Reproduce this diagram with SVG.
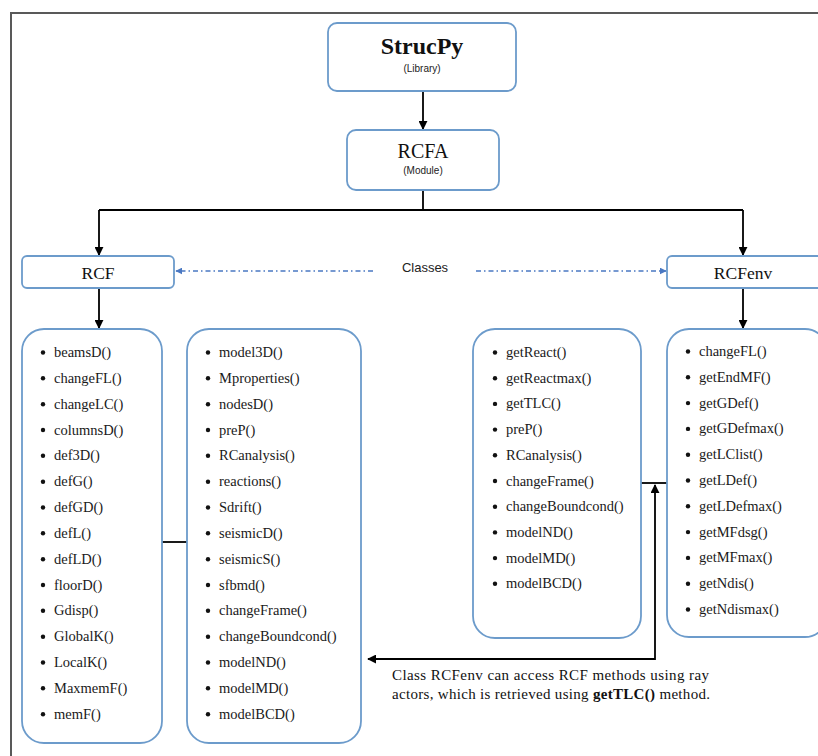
<svg xmlns="http://www.w3.org/2000/svg" width="818" height="756" viewBox="0 0 818 756">
<defs>
<style>
.box{fill:#fff;stroke:#6C9BCB;stroke-width:1.8}
.ln{fill:none;stroke:#000;stroke-width:1.8}
.blue{fill:none;stroke:#4A78C2;stroke-width:1.5;stroke-dasharray:5 3 1.5 3}
.ser{font-family:"Liberation Serif","Times New Roman",serif;fill:#111}
.sans{font-family:"Liberation Sans",Arial,sans-serif;fill:#222}
.item{font-family:"Liberation Serif","Times New Roman",serif;font-size:14.5px;fill:#1a1a1a}
.bul{fill:#111}
</style>
<marker id="ah" viewBox="0 0 10 10" refX="9" refY="5" markerWidth="9" markerHeight="9" markerUnits="userSpaceOnUse" orient="auto-start-reverse">
<path d="M0,0 L10,5 L0,10 z" fill="#000"/>
</marker>
<marker id="bh" viewBox="0 0 10 10" refX="9" refY="5" markerWidth="7" markerHeight="7" markerUnits="userSpaceOnUse" orient="auto-start-reverse">
<path d="M0,0 L10,5 L0,10 z" fill="#4A78C2"/>
</marker>
</defs>
<rect width="818" height="756" fill="#fff"/>
<path d="M11,756 V13 H818" fill="none" stroke="#595959" stroke-width="2"/>

<g id="connectors">
<path class="ln" d="M423,92 V129" marker-end="url(#ah)"/>
<path class="ln" d="M423,190 V210 M99,210 H743"/>
<path class="ln" d="M99,210 V255" marker-end="url(#ah)"/>
<path class="ln" d="M743,210 V255" marker-end="url(#ah)"/>
<path class="ln" d="M99,288 V328" marker-end="url(#ah)"/>
<path class="ln" d="M743,288 V328" marker-end="url(#ah)"/>
<path class="blue" d="M373,271 H176" marker-end="url(#bh)"/>
<path class="blue" d="M476,271 H666" marker-end="url(#bh)"/>
<path class="ln" d="M162,542 H187"/>
<path class="ln" d="M641,483 H667"/>
<path class="ln" d="M655,485 V659 H368" marker-start="url(#ah)" marker-end="url(#ah)"/>
</g>

<g id="strucpy">
<rect class="box" x="328" y="23" width="188" height="68" rx="9"/>
<text class="ser" x="422" y="54" font-size="24" font-weight="bold" text-anchor="middle">StrucPy</text>
<text class="sans" x="422" y="72" font-size="10" text-anchor="middle">(Library)</text>
</g>

<g id="rcfa">
<rect class="box" x="347" y="130" width="152" height="60" rx="9"/>
<text class="ser" x="423" y="158" font-size="20" text-anchor="middle">RCFA</text>
<text class="sans" x="423" y="174" font-size="10" text-anchor="middle">(Module)</text>
</g>

<g id="rcf">
<rect class="box" x="22" y="256" width="152" height="32" rx="5"/>
<text class="ser" x="98" y="279" font-size="17.5" text-anchor="middle">RCF</text>
</g>

<g id="classes">
<text class="sans" x="425" y="272" font-size="13" text-anchor="middle">Classes</text>
</g>

<g id="rcfenv">
<rect class="box" x="667" y="256" width="160" height="32" rx="5"/>
<text class="ser" x="743" y="279" font-size="17.5" text-anchor="middle">RCFenv</text>
</g>

<g id="rcf-list1">
<rect class="box" x="22" y="329" width="140" height="414" rx="22"/>
<g class="bul">
<circle cx="43" cy="352.5" r="2.2"/><circle cx="43" cy="378.3" r="2.2"/><circle cx="43" cy="404.2" r="2.2"/><circle cx="43" cy="430" r="2.2"/><circle cx="43" cy="455.8" r="2.2"/><circle cx="43" cy="481.7" r="2.2"/><circle cx="43" cy="507.5" r="2.2"/><circle cx="43" cy="533.3" r="2.2"/><circle cx="43" cy="559.2" r="2.2"/><circle cx="43" cy="585" r="2.2"/><circle cx="43" cy="610.8" r="2.2"/><circle cx="43" cy="636.7" r="2.2"/><circle cx="43" cy="662.5" r="2.2"/><circle cx="43" cy="688.3" r="2.2"/><circle cx="43" cy="714.2" r="2.2"/>
</g>
<text class="item">
<tspan x="54" y="357">beamsD()</tspan><tspan x="54" y="382.8">changeFL()</tspan><tspan x="54" y="408.7">changeLC()</tspan><tspan x="54" y="434.5">columnsD()</tspan><tspan x="54" y="460.3">def3D()</tspan><tspan x="54" y="486.2">defG()</tspan><tspan x="54" y="512">defGD()</tspan><tspan x="54" y="537.8">defL()</tspan><tspan x="54" y="563.7">defLD()</tspan><tspan x="54" y="589.5">floorD()</tspan><tspan x="54" y="615.3">Gdisp()</tspan><tspan x="54" y="641.2">GlobalK()</tspan><tspan x="54" y="667">LocalK()</tspan><tspan x="54" y="692.8">MaxmemF()</tspan><tspan x="54" y="718.7">memF()</tspan>
</text>
</g>

<g id="rcf-list2">
<rect class="box" x="187" y="329" width="174" height="414" rx="22"/>
<g class="bul">
<circle cx="208" cy="352.5" r="2.2"/><circle cx="208" cy="378.3" r="2.2"/><circle cx="208" cy="404.2" r="2.2"/><circle cx="208" cy="430" r="2.2"/><circle cx="208" cy="455.8" r="2.2"/><circle cx="208" cy="481.7" r="2.2"/><circle cx="208" cy="507.5" r="2.2"/><circle cx="208" cy="533.3" r="2.2"/><circle cx="208" cy="559.2" r="2.2"/><circle cx="208" cy="585" r="2.2"/><circle cx="208" cy="610.8" r="2.2"/><circle cx="208" cy="636.7" r="2.2"/><circle cx="208" cy="662.5" r="2.2"/><circle cx="208" cy="688.3" r="2.2"/><circle cx="208" cy="714.2" r="2.2"/>
</g>
<text class="item">
<tspan x="219" y="357">model3D()</tspan><tspan x="219" y="382.8">Mproperties()</tspan><tspan x="219" y="408.7">nodesD()</tspan><tspan x="219" y="434.5">preP()</tspan><tspan x="219" y="460.3">RCanalysis()</tspan><tspan x="219" y="486.2">reactions()</tspan><tspan x="219" y="512">Sdrift()</tspan><tspan x="219" y="537.8">seismicD()</tspan><tspan x="219" y="563.7">seismicS()</tspan><tspan x="219" y="589.5">sfbmd()</tspan><tspan x="219" y="615.3">changeFrame()</tspan><tspan x="219" y="641.2">changeBoundcond()</tspan><tspan x="219" y="667">modelND()</tspan><tspan x="219" y="692.8">modelMD()</tspan><tspan x="219" y="718.7">modelBCD()</tspan>
</text>
</g>

<g id="rcfenv-list1">
<rect class="box" x="473" y="329" width="168" height="309" rx="22"/>
<g class="bul">
<circle cx="495" cy="352.5" r="2.2"/><circle cx="495" cy="378.2" r="2.2"/><circle cx="495" cy="403.9" r="2.2"/><circle cx="495" cy="429.6" r="2.2"/><circle cx="495" cy="455.3" r="2.2"/><circle cx="495" cy="481" r="2.2"/><circle cx="495" cy="506.7" r="2.2"/><circle cx="495" cy="532.4" r="2.2"/><circle cx="495" cy="558.1" r="2.2"/><circle cx="495" cy="583.8" r="2.2"/>
</g>
<text class="item">
<tspan x="506" y="357">getReact()</tspan><tspan x="506" y="382.7">getReactmax()</tspan><tspan x="506" y="408.4">getTLC()</tspan><tspan x="506" y="434.1">preP()</tspan><tspan x="506" y="459.8">RCanalysis()</tspan><tspan x="506" y="485.5">changeFrame()</tspan><tspan x="506" y="511.2">changeBoundcond()</tspan><tspan x="506" y="536.9">modelND()</tspan><tspan x="506" y="562.6">modelMD()</tspan><tspan x="506" y="588.3">modelBCD()</tspan>
</text>
</g>

<g id="rcfenv-list2">
<rect class="box" x="667" y="329" width="160" height="308" rx="22"/>
<g class="bul">
<circle cx="688" cy="351.5" r="2.2"/><circle cx="688" cy="377.3" r="2.2"/><circle cx="688" cy="403.1" r="2.2"/><circle cx="688" cy="428.9" r="2.2"/><circle cx="688" cy="454.7" r="2.2"/><circle cx="688" cy="480.5" r="2.2"/><circle cx="688" cy="506.3" r="2.2"/><circle cx="688" cy="532.1" r="2.2"/><circle cx="688" cy="557.9" r="2.2"/><circle cx="688" cy="583.7" r="2.2"/><circle cx="688" cy="609.5" r="2.2"/>
</g>
<text class="item">
<tspan x="699" y="356">changeFL()</tspan><tspan x="699" y="381.8">getEndMF()</tspan><tspan x="699" y="407.6">getGDef()</tspan><tspan x="699" y="433.4">getGDefmax()</tspan><tspan x="699" y="459.2">getLClist()</tspan><tspan x="699" y="485">getLDef()</tspan><tspan x="699" y="510.8">getLDefmax()</tspan><tspan x="699" y="536.6">getMFdsg()</tspan><tspan x="699" y="562.4">getMFmax()</tspan><tspan x="699" y="588.2">getNdis()</tspan><tspan x="699" y="614">getNdismax()</tspan>
</text>
</g>

<g id="caption">
<text class="ser" x="392" y="680" font-size="15" textLength="317" lengthAdjust="spacing">Class RCFenv can access RCF methods using ray</text>
<text class="ser" x="392" y="699" font-size="15" textLength="318" lengthAdjust="spacing">actors, which is retrieved using <tspan font-weight="bold">getTLC()</tspan> method.</text>
</g>
</svg>
